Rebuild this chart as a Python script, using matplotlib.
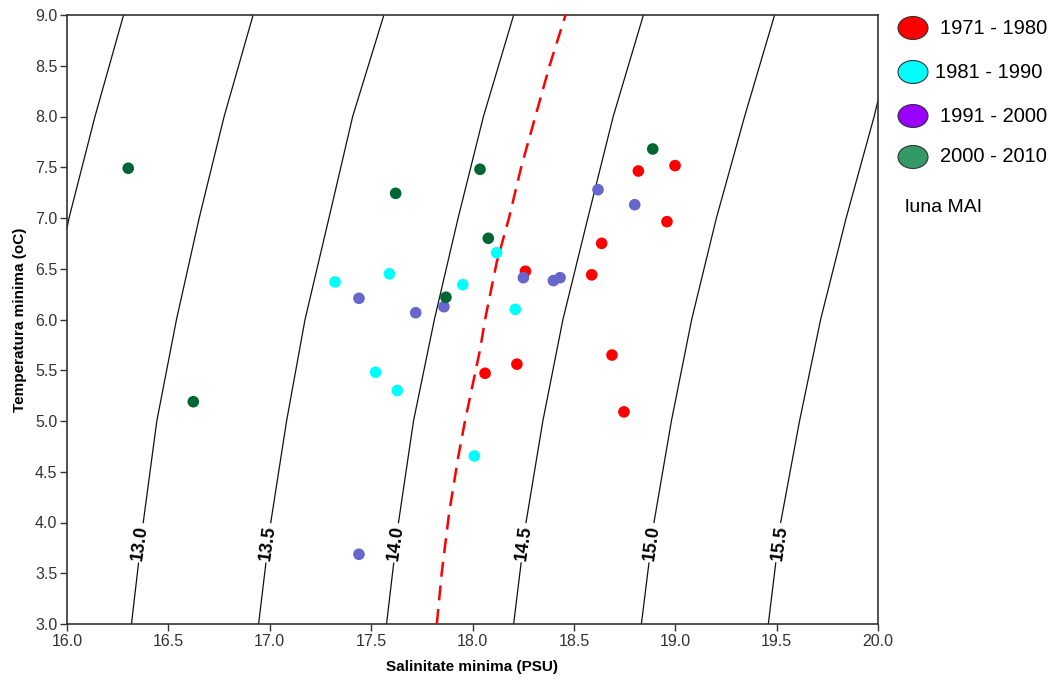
import matplotlib
matplotlib.use("Agg")
import matplotlib.pyplot as plt
from matplotlib.patches import Ellipse

plt.rcParams['font.family'] = ['Liberation Sans', 'DejaVu Sans']

# -----------------------------
# Data
# -----------------------------
# 1971 - 1980
S_7180 = [18.818, 18.999, 18.959, 18.637, 18.588, 18.261, 18.688, 18.747, 18.062, 18.219]
T_7180 = [7.463, 7.516, 6.964, 6.750, 6.440, 6.475, 5.650, 5.090, 5.470, 5.560]
# 1981 - 1990
S_8190 = [17.322, 17.590, 17.952, 18.119, 18.211, 17.522, 17.629, 18.009]
T_8190 = [6.370, 6.450, 6.343, 6.658, 6.100, 5.480, 5.300, 4.655]
# 1991 - 2000
S_9100 = [18.619, 18.800, 17.440, 17.720, 17.859, 18.251, 18.399, 18.432, 17.440]
T_9100 = [7.279, 7.131, 6.209, 6.067, 6.126, 6.412, 6.383, 6.412, 3.687]
# 2000 - 2010
S_0010 = [16.302, 16.623, 17.621, 18.037, 18.078, 17.869, 18.889]
T_0010 = [7.490, 5.190, 7.243, 7.480, 6.800, 6.219, 7.680]

# density isolines (sigma-t), salinity read at given temperatures
ISO_LEVELS = ['12.5', '13.0', '13.5', '14.0', '14.5', '15.0', '15.5']
ISO_T = {
    '12.5': [6.9, 7.0, 8.0, 9.0],
    '13.0': [3.0, 4.0, 5.0, 6.0, 7.0, 8.0, 9.0],
    '13.5': [3.0, 4.0, 5.0, 6.0, 7.0, 8.0, 9.0],
    '14.0': [3.0, 4.0, 5.0, 6.0, 7.0, 8.0, 9.0],
    '14.5': [3.0, 4.0, 5.0, 6.0, 7.0, 8.0, 9.0],
    '15.0': [3.0, 4.0, 5.0, 6.0, 7.0, 8.0, 9.0],
    '15.5': [3.0, 4.0, 5.0, 6.0, 7.0, 8.0, 8.16],
}
ISO_S = {
    '12.5': [16.0, 16.010, 16.138, 16.279],
    '13.0': [16.318, 16.376, 16.443, 16.540, 16.652, 16.775, 16.918],
    '13.5': [16.945, 17.005, 17.083, 17.174, 17.292, 17.409, 17.563],
    '14.0': [17.576, 17.635, 17.709, 17.812, 17.929, 18.054, 18.203],
    '14.5': [18.203, 18.264, 18.347, 18.446, 18.569, 18.694, 18.843],
    '15.0': [18.833, 18.895, 18.981, 19.081, 19.203, 19.342, 19.490],
    '15.5': [19.459, 19.520, 19.613, 19.717, 19.843, 19.981, 20.0],
}
# where the isoline labels sit
LABEL_S = {'13.0': 16.36, '13.5': 16.99, '14.0': 17.62, '14.5': 18.255, '15.0': 18.885, '15.5': 19.515}
LABEL_T = 3.80

# red dashed line
RED_S = [17.824, 17.848, 17.885, 17.930, 17.963, 18.037, 18.062, 18.119, 18.180, 18.240, 18.310, 18.380, 18.459]
RED_T = [3.0, 3.5, 4.1, 4.65, 5.0, 5.7, 6.0, 6.56, 7.0, 7.5, 8.0, 8.5, 9.0]

LEGEND_LABELS = ['1971 - 1980', '1981 - 1990', '1991 - 2000', '2000 - 2010']
LEGEND_COLORS = ['#ff0000', '#00ffff', '#9900ff', '#339966']
POINT_COLORS = ['#ff0000', '#00ffff', '#6666cc', '#006633']

XTICKS = [16.0, 16.5, 17.0, 17.5, 18.0, 18.5, 19.0, 19.5, 20.0]
YTICKS = [3.0, 3.5, 4.0, 4.5, 5.0, 5.5, 6.0, 6.5, 7.0, 7.5, 8.0, 8.5, 9.0]

# -----------------------------
# Figure
# -----------------------------
fig = plt.figure(figsize=(10.51, 6.83), dpi=100)
ax = fig.add_axes([67 / 1051, 59 / 683, 811 / 1051, 609 / 683])

for lev in ISO_LEVELS:
    ax.plot(ISO_S[lev], ISO_T[lev], color='#111111', lw=0.9, zorder=1)
    if lev in LABEL_S:
        ax.text(LABEL_S[lev], LABEL_T, lev, rotation=82, ha='center', va='center',
                fontsize=13, fontweight='bold', color='black', zorder=2,
                bbox=dict(boxstyle='square,pad=0.12', fc='white', ec='none'))

ax.plot(RED_S, RED_T, color='red', lw=1.8, dashes=(6, 3.5), zorder=3)

series = [(S_7180, T_7180), (S_8190, T_8190), (S_9100, T_9100), (S_0010, T_0010)]
for (s, t), c in zip(series, POINT_COLORS):
    ax.scatter(s, t, s=70, color=c, edgecolors='none', zorder=4)

ax.set_xlim(16.0, 20.0)
ax.set_ylim(3.0, 9.0)
ax.set_xticks(XTICKS)
ax.set_yticks(YTICKS)
ax.set_xticklabels([f'{v:.1f}' for v in XTICKS])
ax.set_yticklabels([f'{v:.1f}' for v in YTICKS])
ax.tick_params(axis='both', direction='out', length=5, width=1, color='#333333',
               labelsize=11.5, labelcolor='#333333', pad=2)
for sp in ax.spines.values():
    sp.set_color('#333333')
    sp.set_linewidth(1.2)

ax.set_xlabel('Salinitate minima (PSU)', fontsize=11, fontweight='bold', labelpad=8)
ax.set_ylabel('Temperatura minima (oC)', fontsize=11, fontweight='bold', labelpad=6)

# legend drawn by hand at the right
leg_y = [28, 72, 116, 157]
leg_x = [940, 935, 940, 940]
for y, x, lab, c in zip(leg_y, leg_x, LEGEND_LABELS, LEGEND_COLORS):
    fig.add_artist(Ellipse((913 / 1051, 1 - y / 683), 30 / 1051, 23 / 683,
                           transform=fig.transFigure, facecolor=c,
                           edgecolor='#333333', lw=0.8))
    fig.text(x / 1051, 1 - y / 683, lab, fontsize=14.5, va='center', ha='left')
fig.text(905 / 1051, 1 - 207 / 683, 'luna MAI', fontsize=14, va='center', ha='left')

fig.savefig('out.png', dpi=100)
